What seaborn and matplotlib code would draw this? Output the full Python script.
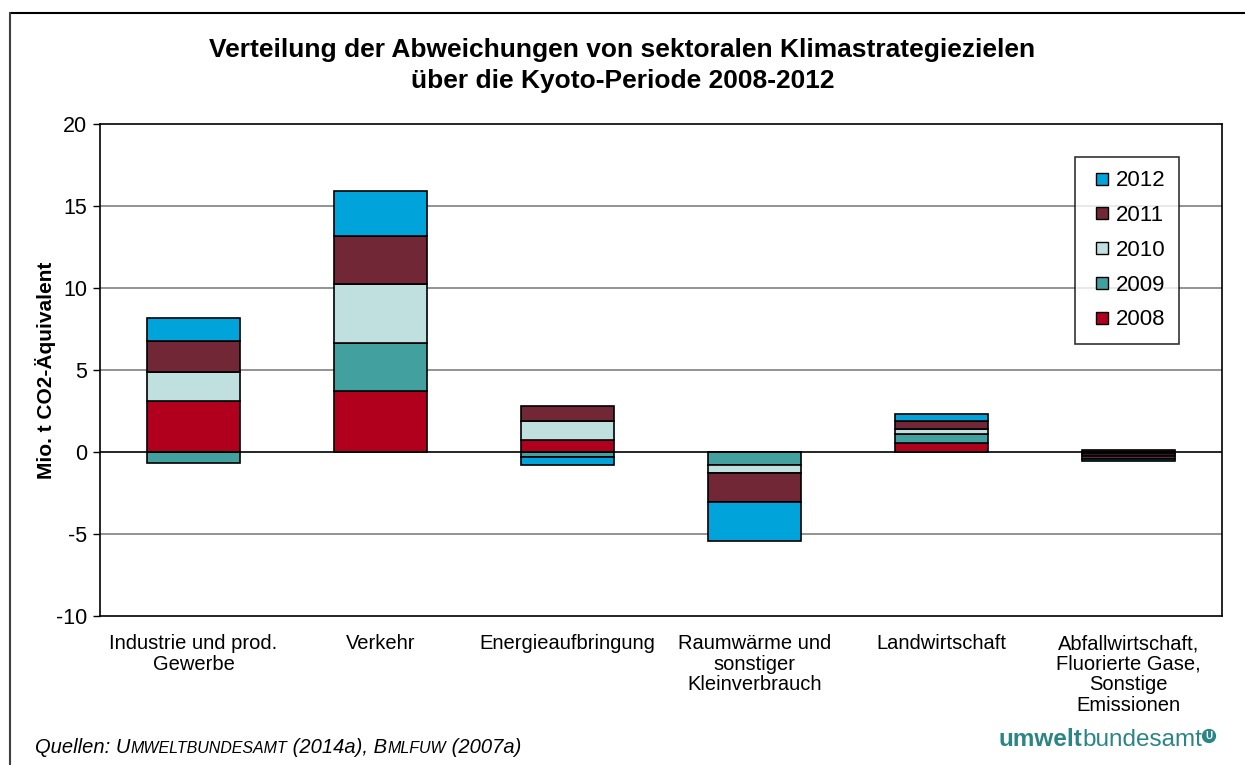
import numpy as np
import pandas as pd
import matplotlib
matplotlib.use("Agg")
import matplotlib.pyplot as plt
import seaborn as sns
from matplotlib.lines import Line2D
from matplotlib.offsetbox import TextArea, HPacker, AnchoredOffsetbox

sns.set_style("white")
plt.rcParams["font.family"] = ["Liberation Sans", "DejaVu Sans"]
plt.rcParams.update({"text.color": "black", "axes.labelcolor": "black",
                     "xtick.color": "black", "ytick.color": "black"})

# data (Mio. t CO2-Aequivalent)
sectors = [
    "Industrie und prod.\nGewerbe",
    "Verkehr",
    "Energieaufbringung",
    "Raumwärme und\nsonstiger\nKleinverbrauch",
    "Landwirtschaft",
    "Abfallwirtschaft,\nFluorierte Gase,\nSonstige\nEmissionen",
]
years = ["2008", "2009", "2010", "2011", "2012"]
v2008 = [3.13, 3.74, 0.75, 0.00, 0.55, 0.10]
v2009 = [-0.65, 2.93, -0.28, -0.81, 0.52, -0.15]
v2010 = [1.75, 3.57, 1.12, -0.47, 0.35, -0.12]
v2011 = [1.89, 2.93, 0.93, -1.75, 0.47, -0.13]
v2012 = [1.42, 2.76, -0.51, -2.40, 0.41, -0.15]
colors = ["#B0001E", "#42A09E", "#C0E0DF", "#722737", "#00A3DA"]

series = [v2008, v2009, v2010, v2011, v2012]

fig = plt.figure(figsize=(12.45, 7.65), dpi=100)
ax = fig.add_axes([100 / 1245, 149 / 765, 1122 / 1245, 492 / 765])

# Excel-style stacking: positives up, negatives down
pos_base = np.zeros(len(sectors))
neg_base = np.zeros(len(sectors))
for year, vals, col in zip(years, series, colors):
    vals = np.array(vals)
    bottom = np.where(vals >= 0, pos_base, neg_base)
    df = pd.DataFrame({"sector": sectors, "value": vals})
    sns.barplot(data=df, x="sector", y="value", bottom=bottom, color=col,
                width=0.5, edgecolor="black", linewidth=1.2, saturation=1,
                ax=ax, zorder=3)
    pos_base = pos_base + np.where(vals >= 0, vals, 0)
    neg_base = neg_base + np.where(vals < 0, vals, 0)

ax.set_xlim(-0.5, len(sectors) - 0.5)
ax.set_ylim(-10, 20)
ax.set_yticks(range(-10, 21, 5))
ax.set_yticklabels([str(t) for t in range(-10, 21, 5)], fontsize=15.5)
for t in [-5, 5, 10, 15]:
    ax.axhline(t, color="#808080", linewidth=1.2, zorder=1)
ax.axhline(0, color="black", linewidth=1.2, zorder=4)

ax.set_xticks(range(len(sectors)))
ax.set_xticklabels(sectors, fontsize=14.5, linespacing=1.1)
ax.tick_params(axis="x", which="major", length=0, pad=13)
ax.set_xticks(np.arange(0.5, len(sectors) - 0.5, 1), minor=True)
ax.tick_params(axis="x", which="minor", length=5, width=1, direction="in")
ax.tick_params(axis="y", length=5, width=1, direction="out", left=True, pad=4)
ax.set_xlabel("")
ax.set_ylabel("Mio. t CO2-Äquivalent", fontsize=15, fontweight="bold", labelpad=0)
for side in ax.spines.values():
    side.set_visible(True)
    side.set_color("black")
    side.set_linewidth(1.2)

handles = [Line2D([], [], linestyle="none", marker="s", markersize=9,
                  markerfacecolor=c, markeredgecolor="black", markeredgewidth=1,
                  label=y)
           for y, c in zip(years, colors)][::-1]
leg = ax.legend(handles=handles, loc="upper left",
                bbox_to_anchor=(975 / 1122, 1 - 33 / 492), frameon=True,
                fancybox=False, edgecolor="black", fontsize=16,
                handlelength=1.2, handletextpad=0.05,
                labelspacing=0.62, borderpad=0.6, borderaxespad=0)
leg.get_frame().set_linewidth(1.2)
leg.set_zorder(10)

fig.text(0.5, 1 - 50 / 765,
         "Verteilung der Abweichungen von sektoralen Klimastrategiezielen",
         ha="center", va="center", fontsize=19, fontweight="bold")
fig.text(0.5, 1 - 81 / 765, "über die Kyoto-Periode 2008-2012",
         ha="center", va="center", fontsize=19, fontweight="bold")

# source line with small caps
parts = [("Quellen: U", 14.5), ("MWELTBUNDESAMT", 11.5), (" (2014a), B", 14.5),
         ("MLFUW", 11.5), (" (2007a)", 14.5)]
boxes = [TextArea(s, textprops=dict(fontsize=fs, fontstyle="italic"))
         for s, fs in parts]
src = AnchoredOffsetbox(loc="lower left", child=HPacker(children=boxes, align="baseline", pad=0, sep=0),
                        bbox_to_anchor=(35 / 1245, 8 / 765), bbox_transform=fig.transFigure,
                        frameon=False, pad=0, borderpad=0)
fig.add_artist(src)

# logo text
teal = "#2B8585"
logo = HPacker(children=[
    TextArea("umwelt", textprops=dict(fontsize=17.5, fontweight="bold", color=teal)),
    TextArea("bundesamt", textprops=dict(fontsize=17.5, color=teal)),
], align="baseline", pad=0, sep=0)
fig.add_artist(AnchoredOffsetbox(loc="lower right", child=logo,
                                 bbox_to_anchor=(1202 / 1245, 14 / 765),
                                 bbox_transform=fig.transFigure, frameon=False,
                                 pad=0, borderpad=0))
fig.text(1209 / 1245, 1 - 736 / 765, "U", ha="center", va="center", fontsize=7,
         fontweight="bold", color="white",
         bbox=dict(boxstyle="circle,pad=0.22", facecolor=teal, edgecolor="none"))

# outer frame (top and left only, as in the reference)
fig.add_artist(Line2D([10 / 1245, 1], [1 - 13 / 765, 1 - 13 / 765],
                      transform=fig.transFigure, color="black", linewidth=1.5))
fig.add_artist(Line2D([10 / 1245, 10 / 1245], [0, 1 - 13 / 765],
                      transform=fig.transFigure, color="#404040", linewidth=1.5))

fig.savefig("out.png", dpi=100)
